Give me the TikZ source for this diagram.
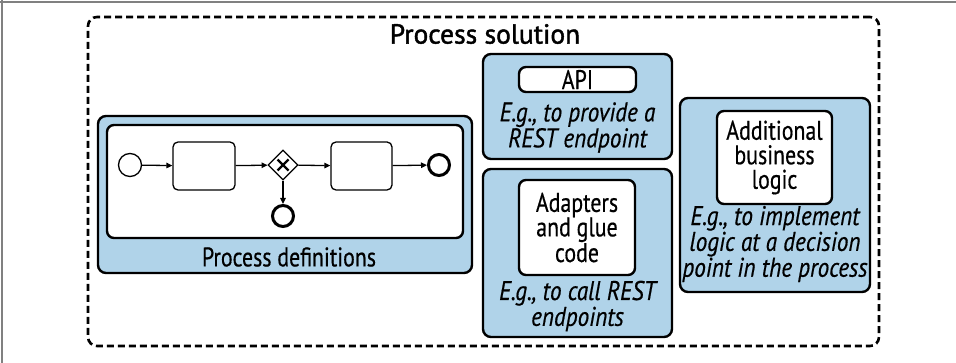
\documentclass[tikz,border=0pt]{standalone}
\usepackage{fontspec}
\setmainfont[FakeStretch=0.81,FakeBold=0.5,ItalicFeatures={FakeStretch=0.86,FakeBold=0.5}]{PT Sans}
\newfontfamily\titlefont[FakeBold=1.6]{PT Sans}
\usetikzlibrary{arrows.meta,shapes.geometric,calc}
\definecolor{boxblue}{RGB}{176,211,233}
\definecolor{framegray}{RGB}{128,128,128}
\tikzset{
  outerbox/.style={draw, fill=boxblue, line width=2.4pt, rounded corners=8pt, inner sep=0pt},
  innerbox/.style={draw, fill=white, line width=2.4pt, rounded corners=7pt, inner sep=0pt,
    align=center, font=\fontsize{27}{24.5}\selectfont},
  note/.style={align=center, inner sep=0pt, font=\fontsize{27}{24}\selectfont\itshape},
  plain/.style={align=center, inner sep=0pt, font=\fontsize{27}{24}\selectfont},
  task/.style={draw, line width=1.3pt, rounded corners=5pt, minimum width=62pt, minimum height=48pt, inner sep=0pt},
  startevt/.style={draw, circle, line width=1.3pt, minimum size=23pt, inner sep=0pt},
  endevt/.style={draw, circle, line width=3pt, minimum size=21pt, inner sep=0pt},
  gateway/.style={draw, diamond, line width=1.3pt, minimum width=30pt, minimum height=30pt, inner sep=0pt},
  flow/.style={line width=1.3pt, -{Triangle[length=6pt,width=5.5pt]}},
}
\begin{document}
\begin{tikzpicture}[x=1pt,y=1pt]
\useasboundingbox (0,0) rectangle (956,-363);
\fill[white] (0,0) rectangle (956,-363);
% thin gray edge along the top and left
\draw[framegray, line width=1.5pt] (0,-2) -- (956,-2);
\draw[framegray, line width=1.5pt] (2,0) -- (2,-363);

% dashed container
\node[draw, dashed, dash pattern=on 7pt off 4pt, line width=2.6pt, rounded corners=9pt,
      minimum width=791pt, minimum height=329pt, inner sep=0pt] (solution) at (483.5,-181.5) {};
\node[inner sep=0pt, font=\fontsize{27.5}{30}\titlefont] (title) at (485,-34) {Process solution};

% process definitions
\node[outerbox, minimum width=374pt, minimum height=157pt] (pdouter) at (285,-194.5) {};
\node[innerbox, minimum width=356pt, minimum height=113pt] (pdinner) at (285,-181.5) {};
\node[plain] (pdlabel) at (289,-257) {Process definitions};

\node[startevt] (start) at (130,-165) {};
\node[task] (t1) at (204,-166) {};
\node[gateway] (gw) at (283,-165) {};
\node[task, minimum width=61pt] (t2) at (361.5,-166) {};
\node[endevt] (end1) at (439,-165) {};
\node[endevt] (end2) at (283,-216) {};
\draw[line width=2.4pt] ($(gw.center)+(-5.5,-5.5)$) -- ($(gw.center)+(5.5,5.5)$);
\draw[line width=2.4pt] ($(gw.center)+(-5.5,5.5)$) -- ($(gw.center)+(5.5,-5.5)$);

\draw[flow] (start) -- (t1);
\draw[flow] (t1) -- (gw);
\draw[flow] (gw) -- (t2);
\draw[flow] (t2) -- (end1);
\draw[flow] (gw) -- (end2);

% API
\node[outerbox, minimum width=189pt, minimum height=105pt] (apiouter) at (577.5,-106.5) {};
\node[innerbox, minimum width=117pt, minimum height=25pt] (api) at (577.5,-79.5) {API};
\node[note] (apinote) at (577.5,-127.5) {E.g., to provide a\\REST endpoint};

% adapters
\node[outerbox, minimum width=189pt, minimum height=168pt] (adouter) at (577.5,-253) {};
\node[innerbox, minimum width=116pt, minimum height=95pt] (adapters) at (577,-227.5) {Adapters\\and glue\\code};
\node[note] (adnote) at (577.5,-306) {E.g., to call REST\\endpoints};

% additional business logic
\node[outerbox, minimum width=190pt, minimum height=194pt] (bizouter) at (775,-195) {};
\node[innerbox, minimum width=115pt, minimum height=93pt] (biz) at (774.5,-157.5) {Additional\\business\\logic};
\node[note] (biznote) at (775,-244) {E.g., to implement\\logic at a decision\\point in the process};
\end{tikzpicture}
\end{document}
